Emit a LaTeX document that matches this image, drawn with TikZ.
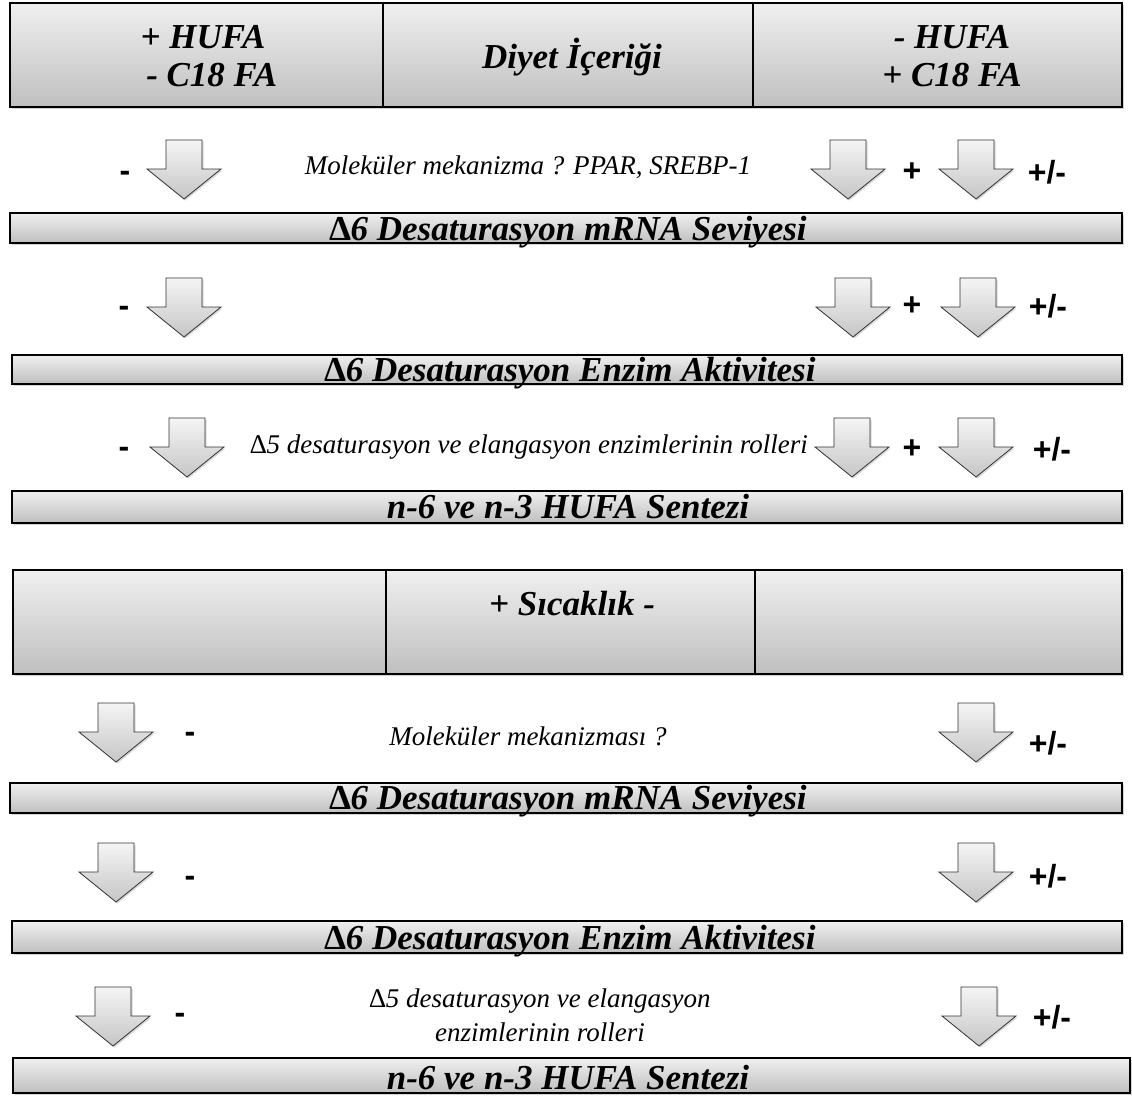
\documentclass[tikz,border=0pt]{standalone}
\usepackage{fontspec}
\setmainfont{Liberation Serif}
\newfontfamily\signfont{Liberation Sans}
\usetikzlibrary{shadows}
\tikzset{
  panel/.style={draw=black, line width=1.2pt, top color=gray!12, bottom color=gray!50,
    drop shadow={opacity=0.35, shadow xshift=2pt, shadow yshift=-2pt}, inner sep=0pt},
  blockarrow/.style={draw=black!80, line width=0.8pt, top color=gray!8, bottom color=gray!45,
    drop shadow={opacity=0.3, shadow xshift=1.5pt, shadow yshift=-1.5pt}},
  bartext/.style={font=\fontsize{35}{38}\selectfont\bfseries\itshape, anchor=base, inner sep=0pt},
  headtext/.style={font=\fontsize{35}{38}\selectfont\bfseries\itshape, align=center, inner sep=0pt},
  note/.style={font=\fontsize{27}{34}\selectfont\itshape, align=center, inner sep=0pt},
  sign/.style={font=\fontsize{32}{34}\selectfont\signfont\bfseries, inner sep=0pt},
}
\newcommand{\dlt}{{\upshape ∆}}
\newcommand{\dnarrow}[3]{\path[blockarrow, shift={(#2,#3)}] (-18,0) -- (18,0) -- (18,29) -- (37,29) -- (0,59) -- (-37,29) -- (-18,29) -- cycle coordinate (#1) at (0,29);}
\begin{document}
\begin{tikzpicture}[x=1pt,y=-1pt]
\useasboundingbox (0,0) rectangle (1132,1095);
% ===== header 1
\node[panel, minimum width=1112pt, minimum height=104pt] (h1) at (566,55) {};
\draw[line width=1.5pt] (383,3) -- (383,107);
\draw[line width=1.5pt] (753,3) -- (753,107);
\node[headtext] (h1a) at (203,56) {+ HUFA\\\ \ - C18 FA};
\node[headtext] (h1b) at (572,57) {Diyet İçeriği};
\node[headtext] (h1c) at (952,56) {- HUFA\\+ C18 FA};
% ===== row 1
\dnarrow{a1}{184}{140}
\node[sign] (s1a) at (125,176) {-};
\node[note] (n1) at (528,167) {Moleküler mekanizma ? PPAR, SREBP-1};
\dnarrow{a1b}{848}{140}
\node[sign] (s1b) at (912,172) {+};
\dnarrow{a1c}{976}{140}
\node[sign] (s1c) at (1047,172) {+/-};
\node[panel, minimum width=1112pt, minimum height=30pt] (b1) at (566,228) {};
\node[bartext] (b1t) at (568,240) {\dlt6 Desaturasyon mRNA Seviyesi};
% ===== row 2
\dnarrow{a2}{184}{278}
\node[sign] (s2a) at (124,311) {-};
\dnarrow{a2b}{853}{278}
\node[sign] (s2b) at (912,306) {+};
\dnarrow{a2c}{978}{278}
\node[sign] (s2c) at (1048,306) {+/-};
\node[panel, minimum width=1110pt, minimum height=29pt] (b2) at (567,369.5) {};
\node[bartext] (b2t) at (570,381) {\dlt6 Desaturasyon Enzim Aktivitesi};
% ===== row 3
\dnarrow{a3}{187}{418}
\node[sign] (s3a) at (124,452) {-};
\node[note] (n3) at (529,447) {\dlt5 desaturasyon ve elangasyon enzimlerinin rolleri};
\dnarrow{a3b}{852}{418}
\node[sign] (s3b) at (912,449) {+};
\dnarrow{a3c}{976}{418}
\node[sign] (s3c) at (1052,449) {+/-};
\node[panel, minimum width=1110pt, minimum height=32pt] (b3) at (567,507) {};
\node[bartext] (b3t) at (568,518) {n-6 ve n-3 HUFA Sentezi};
% ===== header 2
\node[panel, minimum width=1109pt, minimum height=104pt] (h2) at (567.5,622) {};
\draw[line width=1.5pt] (386,570) -- (386,674);
\draw[line width=1.5pt] (755,570) -- (755,674);
\node[headtext] (h2t) at (572,604) {+ Sıcaklık -};
% ===== row 4
\dnarrow{a4}{116}{703}
\node[sign] (s4a) at (190,737) {-};
\node[note] (n4) at (528,736) {Moleküler mekanizması ?};
\dnarrow{a4c}{976}{703}
\node[sign] (s4c) at (1048,743) {+/-};
\node[panel, minimum width=1112pt, minimum height=30pt] (b4) at (566,798) {};
\node[bartext] (b4t) at (568,809) {\dlt6 Desaturasyon mRNA Seviyesi};
% ===== row 5
\dnarrow{a5}{116}{843}
\node[sign] (s5a) at (190,881) {-};
\dnarrow{a5c}{976}{843}
\node[sign] (s5c) at (1048,876) {+/-};
\node[panel, minimum width=1110pt, minimum height=32pt] (b5) at (567,937) {};
\node[bartext] (b5t) at (570,949) {\dlt6 Desaturasyon Enzim Aktivitesi};
% ===== row 6
\dnarrow{a6}{113}{987}
\node[sign] (s6a) at (180,1018) {-};
\node[note] (n6) at (540,1015) {\dlt5 desaturasyon ve elangasyon\\enzimlerinin rolleri};
\dnarrow{a6c}{979}{987}
\node[sign] (s6c) at (1052,1017) {+/-};
\node[panel, minimum width=1117pt, minimum height=35pt] (b6) at (571.5,1075.5) {};
\node[bartext] (b6t) at (568,1089) {n-6 ve n-3 HUFA Sentezi};
\end{tikzpicture}
\end{document}
